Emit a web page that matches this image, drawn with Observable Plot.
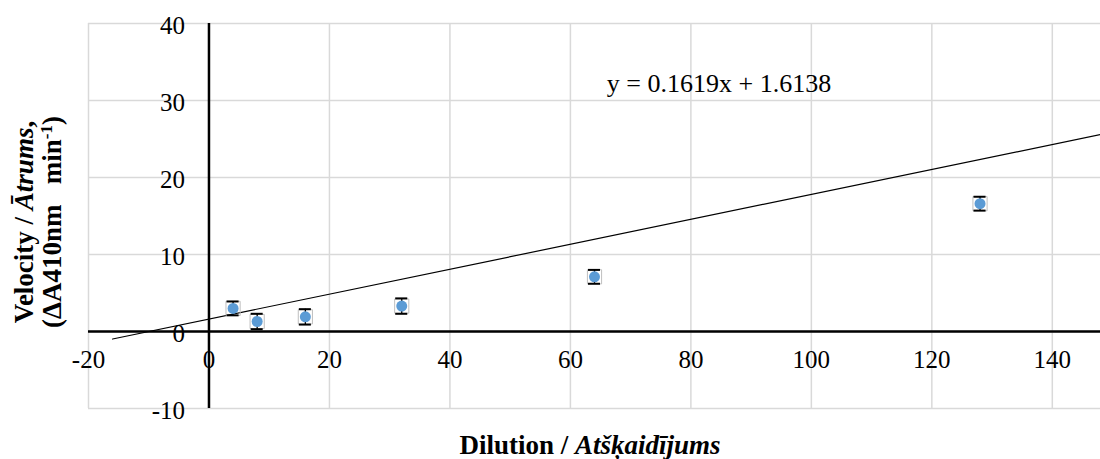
<!DOCTYPE html>
<html><head><meta charset="utf-8">
<script src="https://cdn.jsdelivr.net/npm/d3@7"></script>
<script src="https://cdn.jsdelivr.net/npm/@observablehq/plot@0.6"></script>
<style>body{margin:0;background:#fff;} svg{display:block;}</style>
</head><body><div id="chart"></div>
<script>
const dilution = [4, 8, 16, 32, 64, 128];
const velocity = [3.0, 1.3, 1.9, 3.3, 7.1, 16.6];
const errors = [0.9, 1.0, 1.0, 1.0, 0.9, 0.9];
const xTicks = [-20, 0, 20, 40, 60, 80, 100, 120, 140];
const yTicks = [-10, 0, 10, 20, 30, 40];
const slope = 0.1619, intercept = 1.6138;
const trendX = [-16, 148];

const pts = dilution.map((d, i) => ({x: d, y: velocity[i], e: errors[i]}));
const trend = trendX.map(x => ({x, y: slope * x + intercept}));
const font = "'Liberation Serif', 'Times New Roman', Times, serif";

const plot = Plot.plot({
  width: 1100, height: 459,
  marginLeft: 88, marginRight: 0, marginTop: 23, marginBottom: 51,
  style: {fontFamily: font, fontSize: "25px", background: "#fff"},
  x: {domain: [-20, 148], axis: null},
  y: {domain: [-10, 40], axis: null},
  marks: [
    Plot.ruleX(xTicks, {y1: -10, y2: 40, stroke: "#d9d9d9", strokeWidth: 1.5}),
    Plot.ruleY(yTicks, {x1: -20, x2: 148, stroke: "#d9d9d9", strokeWidth: 1.5}),
    Plot.ruleX([0], {y1: -10, y2: 40, stroke: "#000", strokeWidth: 2.5}),
    Plot.ruleY([0], {x1: -20, x2: 148, stroke: "#000", strokeWidth: 2.5}),
    Plot.text(yTicks, {x: 0, y: d => d, text: d => String(d), textAnchor: "end", dx: -24, dy: 2, fontSize: 25, fill: "#000"}),
    Plot.text(xTicks, {x: d => d, y: 0, text: d => String(d), textAnchor: "middle", dy: 28, fontSize: 25, fill: "#000"}),
    Plot.line(trend, {x: "x", y: "y", stroke: "#000", strokeWidth: 1.2}),
    Plot.dot(pts, {x: "x", y: "y", symbol: "square", r: 8, stroke: "#bfbfbf", strokeWidth: 1, fill: "none"}),
    Plot.ruleX(pts, {x: "x", y1: d => d.y - d.e, y2: d => d.y + d.e, stroke: "#000", strokeWidth: 1.3}),
    Plot.ruleY(pts, {y: d => d.y - d.e, x1: d => d.x - 1, x2: d => d.x + 1, stroke: "#000", strokeWidth: 2}),
    Plot.ruleY(pts, {y: d => d.y + d.e, x1: d => d.x - 1, x2: d => d.x + 1, stroke: "#000", strokeWidth: 2}),
    Plot.dot(pts, {x: "x", y: "y", r: 5.5, fill: "#5b9bd5", stroke: "none"})
  ]
});

const svg = d3.select(plot);
svg.append("text").attr("x", 719).attr("y", 92).attr("text-anchor", "middle")
  .attr("font-size", 26).attr("fill", "#000").text(`y = ${slope}x + ${intercept}`);
const xt = svg.append("text").attr("x", 590).attr("y", 454).attr("text-anchor", "middle")
  .attr("font-size", 27).attr("font-weight", "bold").attr("fill", "#000");
xt.append("tspan").text("Dilution / ");
xt.append("tspan").attr("font-style", "italic").text("Atšķaidījums");
const yt = svg.append("g").attr("transform", "translate(0,222) rotate(-90)");
const l1 = yt.append("text").attr("x", 0).attr("y", 33).attr("text-anchor", "middle")
  .attr("font-size", 27).attr("font-weight", "bold").attr("fill", "#000");
l1.append("tspan").text("Velocity / ");
l1.append("tspan").attr("font-style", "italic").text("Ātrums");
l1.append("tspan").text(",");
const l2 = yt.append("text").attr("x", 0).attr("y", 61).attr("text-anchor", "middle")
  .attr("font-size", 27).attr("font-weight", "bold").attr("fill", "#000");
l2.append("tspan").text("(ΔA410nm\u00a0\u00a0 min");
l2.append("tspan").attr("baseline-shift", "super").attr("font-size", 17).text("-1");
l2.append("tspan").text(")");

document.getElementById("chart").appendChild(plot);
</script>
</body></html>
